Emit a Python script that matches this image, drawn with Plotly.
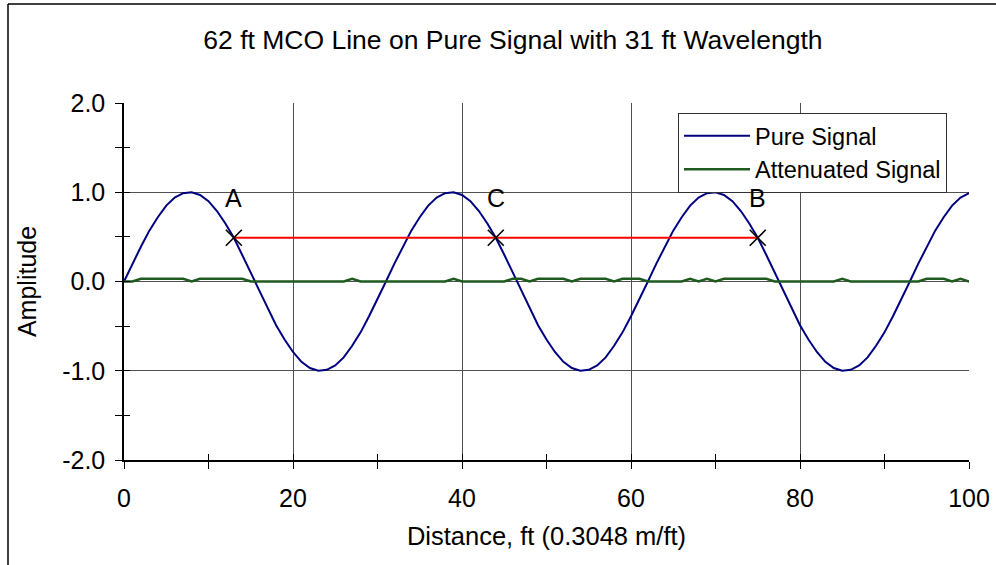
import plotly.graph_objects as go

# ---- data ----
distance_ft = list(range(0, 102))
pure_signal = [
    0.00, 0.20, 0.39, 0.57, 0.72, 0.85, 0.94, 0.99, 1.00, 0.97, 0.90, 0.79, 0.65, 0.49, 0.30, 0.10,
    -0.10, -0.30, -0.49, -0.65, -0.79, -0.90, -0.97, -1.00, -0.99, -0.94, -0.85, -0.72, -0.57, -0.39, -0.20,
    0.00, 0.20, 0.39, 0.57, 0.72, 0.85, 0.94, 0.99, 1.00, 0.97, 0.90, 0.79, 0.65, 0.49, 0.30, 0.10,
    -0.10, -0.30, -0.49, -0.65, -0.79, -0.90, -0.97, -1.00, -0.99, -0.94, -0.85, -0.72, -0.57, -0.39, -0.20,
    0.00, 0.20, 0.39, 0.57, 0.72, 0.85, 0.94, 0.99, 1.00, 0.97, 0.90, 0.79, 0.65, 0.49, 0.30, 0.10,
    -0.10, -0.30, -0.49, -0.65, -0.79, -0.90, -0.97, -1.00, -0.99, -0.94, -0.85, -0.72, -0.57, -0.39, -0.20,
    0.00, 0.20, 0.39, 0.57, 0.72, 0.85, 0.94, 0.99, 1.00,
]
attenuated_signal = [
    0.00, 0.00, 0.03, 0.03, 0.03, 0.03, 0.03, 0.03, 0.00, 0.03, 0.03, 0.03, 0.03, 0.03, 0.03, 0.00,
    0.00, 0.00, 0.00, 0.00, 0.00, 0.00, 0.00, 0.00, 0.00, 0.00, 0.00, 0.03, 0.00, 0.00, 0.00,
    0.00, 0.00, 0.00, 0.00, 0.00, 0.00, 0.00, 0.00, 0.03, 0.00, 0.00, 0.00, 0.00, 0.00, 0.00, 0.03,
    0.03, 0.00, 0.03, 0.03, 0.03, 0.03, 0.00, 0.03, 0.03, 0.03, 0.03, 0.00, 0.03, 0.03, 0.03,
    0.00, 0.00, 0.00, 0.00, 0.00, 0.03, 0.00, 0.03, 0.00, 0.03, 0.03, 0.03, 0.03, 0.03, 0.03, 0.00,
    0.00, 0.00, 0.00, 0.00, 0.00, 0.00, 0.00, 0.03, 0.00, 0.00, 0.00, 0.00, 0.00, 0.00, 0.00,
    0.00, 0.00, 0.03, 0.03, 0.03, 0.00, 0.03, 0.00, 0.00,
]
mco_x = [13, 44, 75]
mco_y = [0.49, 0.49, 0.49]
mco_labels = ["A", "C", "B"]
x_ticks = [0, 20, 40, 60, 80, 100]
y_ticks = [-2.0, -1.0, 0.0, 1.0, 2.0]
y_tick_labels = ["-2.0", "-1.0", "0.0", "1.0", "2.0"]

FONT = "Liberation Sans, Arial, sans-serif"

fig = go.Figure()
fig.add_trace(go.Scatter(x=distance_ft, y=pure_signal, mode="lines", name="Pure Signal",
                         line=dict(color="#000080", width=2)))
fig.add_trace(go.Scatter(x=distance_ft, y=attenuated_signal, mode="lines", name="Attenuated Signal",
                         line=dict(color="#1f5a1f", width=2.5)))
fig.add_trace(go.Scatter(x=[mco_x[0], mco_x[-1]], y=[mco_y[0], mco_y[-1]], mode="lines",
                         line=dict(color="#ff0000", width=2), showlegend=False, hoverinfo="skip"))
fig.add_trace(go.Scatter(x=mco_x, y=mco_y, mode="markers", showlegend=False,
                         marker=dict(symbol="x-thin", size=16, line=dict(color="black", width=1.6))))

for xv, yv, lab in zip(mco_x, mco_y, mco_labels):
    fig.add_annotation(x=xv, y=yv, text=lab, showarrow=False, yshift=40,
                       font=dict(family=FONT, size=25, color="black"))

axis_common = dict(showline=True, linecolor="black", linewidth=1.5, zeroline=False, automargin=False,
                   tickfont=dict(family=FONT, size=25, color="black"))

fig.update_layout(
    width=996, height=565,
    margin=dict(l=124, r=27, t=103, b=105),
    paper_bgcolor="white", plot_bgcolor="white",
    title=dict(text="62 ft MCO Line on Pure Signal with 31 ft Wavelength",
               x=0.515, xanchor="center", y=1 - 40 / 565, yanchor="middle",
               font=dict(family=FONT, size=26.5, color="black")),
    xaxis=dict(range=[0, 100], tickvals=x_ticks, ticks="outside", ticklen=7, tickcolor="black",
               minor=dict(dtick=10, ticks="outside", ticklen=7, tickcolor="black", showgrid=False),
               showgrid=True, gridcolor="#505050", gridwidth=1,
               title=dict(text="Distance, ft (0.3048 m/ft)", font=dict(family=FONT, size=25.5, color="black"),
                          standoff=16),
               ticklabelstandoff=8, **axis_common),
    yaxis=dict(range=[-2, 2], tickvals=y_ticks, ticktext=y_tick_labels, ticks="outside", ticklen=7,
               tickcolor="black",
               minor=dict(dtick=0.5, ticks="outside", ticklen=7, tickcolor="black", showgrid=False),
               showgrid=True, gridcolor="#505050", gridwidth=1,
               title=dict(text="Amplitude", font=dict(family=FONT, size=25, color="black"), standoff=18),
               ticklabelstandoff=5, **axis_common),
    xaxis2=dict(overlaying="x", matches="x", range=[0, 100], tickvals=x_ticks, ticks="inside", ticklen=6,
                tickcolor="black", showticklabels=False, showgrid=False, showline=False, zeroline=False,
                minor=dict(dtick=10, ticks="inside", ticklen=6, tickcolor="black")),
    yaxis2=dict(overlaying="y", matches="y", range=[-2, 2], tickvals=y_ticks, ticks="inside", ticklen=6,
                tickcolor="black", showticklabels=False, showgrid=False, showline=False, zeroline=False,
                minor=dict(dtick=0.5, ticks="inside", ticklen=6, tickcolor="black")),
    legend=dict(x=(678 - 124) / 845, y=(460 - 113) / 357, xanchor="left", yanchor="top",
                bgcolor="white", bordercolor="#333333", borderwidth=1, itemwidth=66,
                font=dict(family=FONT, size=23.5, color="black"), tracegroupgap=0),
    showlegend=True,
)
# invisible trace to activate the overlay axes (crossing tick marks)
fig.add_trace(go.Scatter(x=[0], y=[0], xaxis="x2", yaxis="y2", mode="markers",
                         marker=dict(opacity=0), showlegend=False, hoverinfo="skip"))

# outer chart frame (left and top edges visible)
px2x = lambda px: (px - 124) / 845
py2y = lambda py: (460 - py) / 357
fig.add_shape(type="line", xref="paper", yref="paper", x0=px2x(8), x1=px2x(8), y0=py2y(570), y1=py2y(4),
              line=dict(color="black", width=1.5))
fig.add_shape(type="line", xref="paper", yref="paper", x0=px2x(8), x1=px2x(1000), y0=py2y(4), y1=py2y(4),
              line=dict(color="black", width=1.5))

fig.write_html("out.html", config={"displayModeBar": False})

# remove the default page margin so the figure sits at the window origin
with open("out.html", "r", encoding="utf-8") as f:
    html = f.read()
html = html.replace("<head>", "<head><style>html,body{margin:0;padding:0;overflow:hidden;}</style>", 1)
with open("out.html", "w", encoding="utf-8") as f:
    f.write(html)
